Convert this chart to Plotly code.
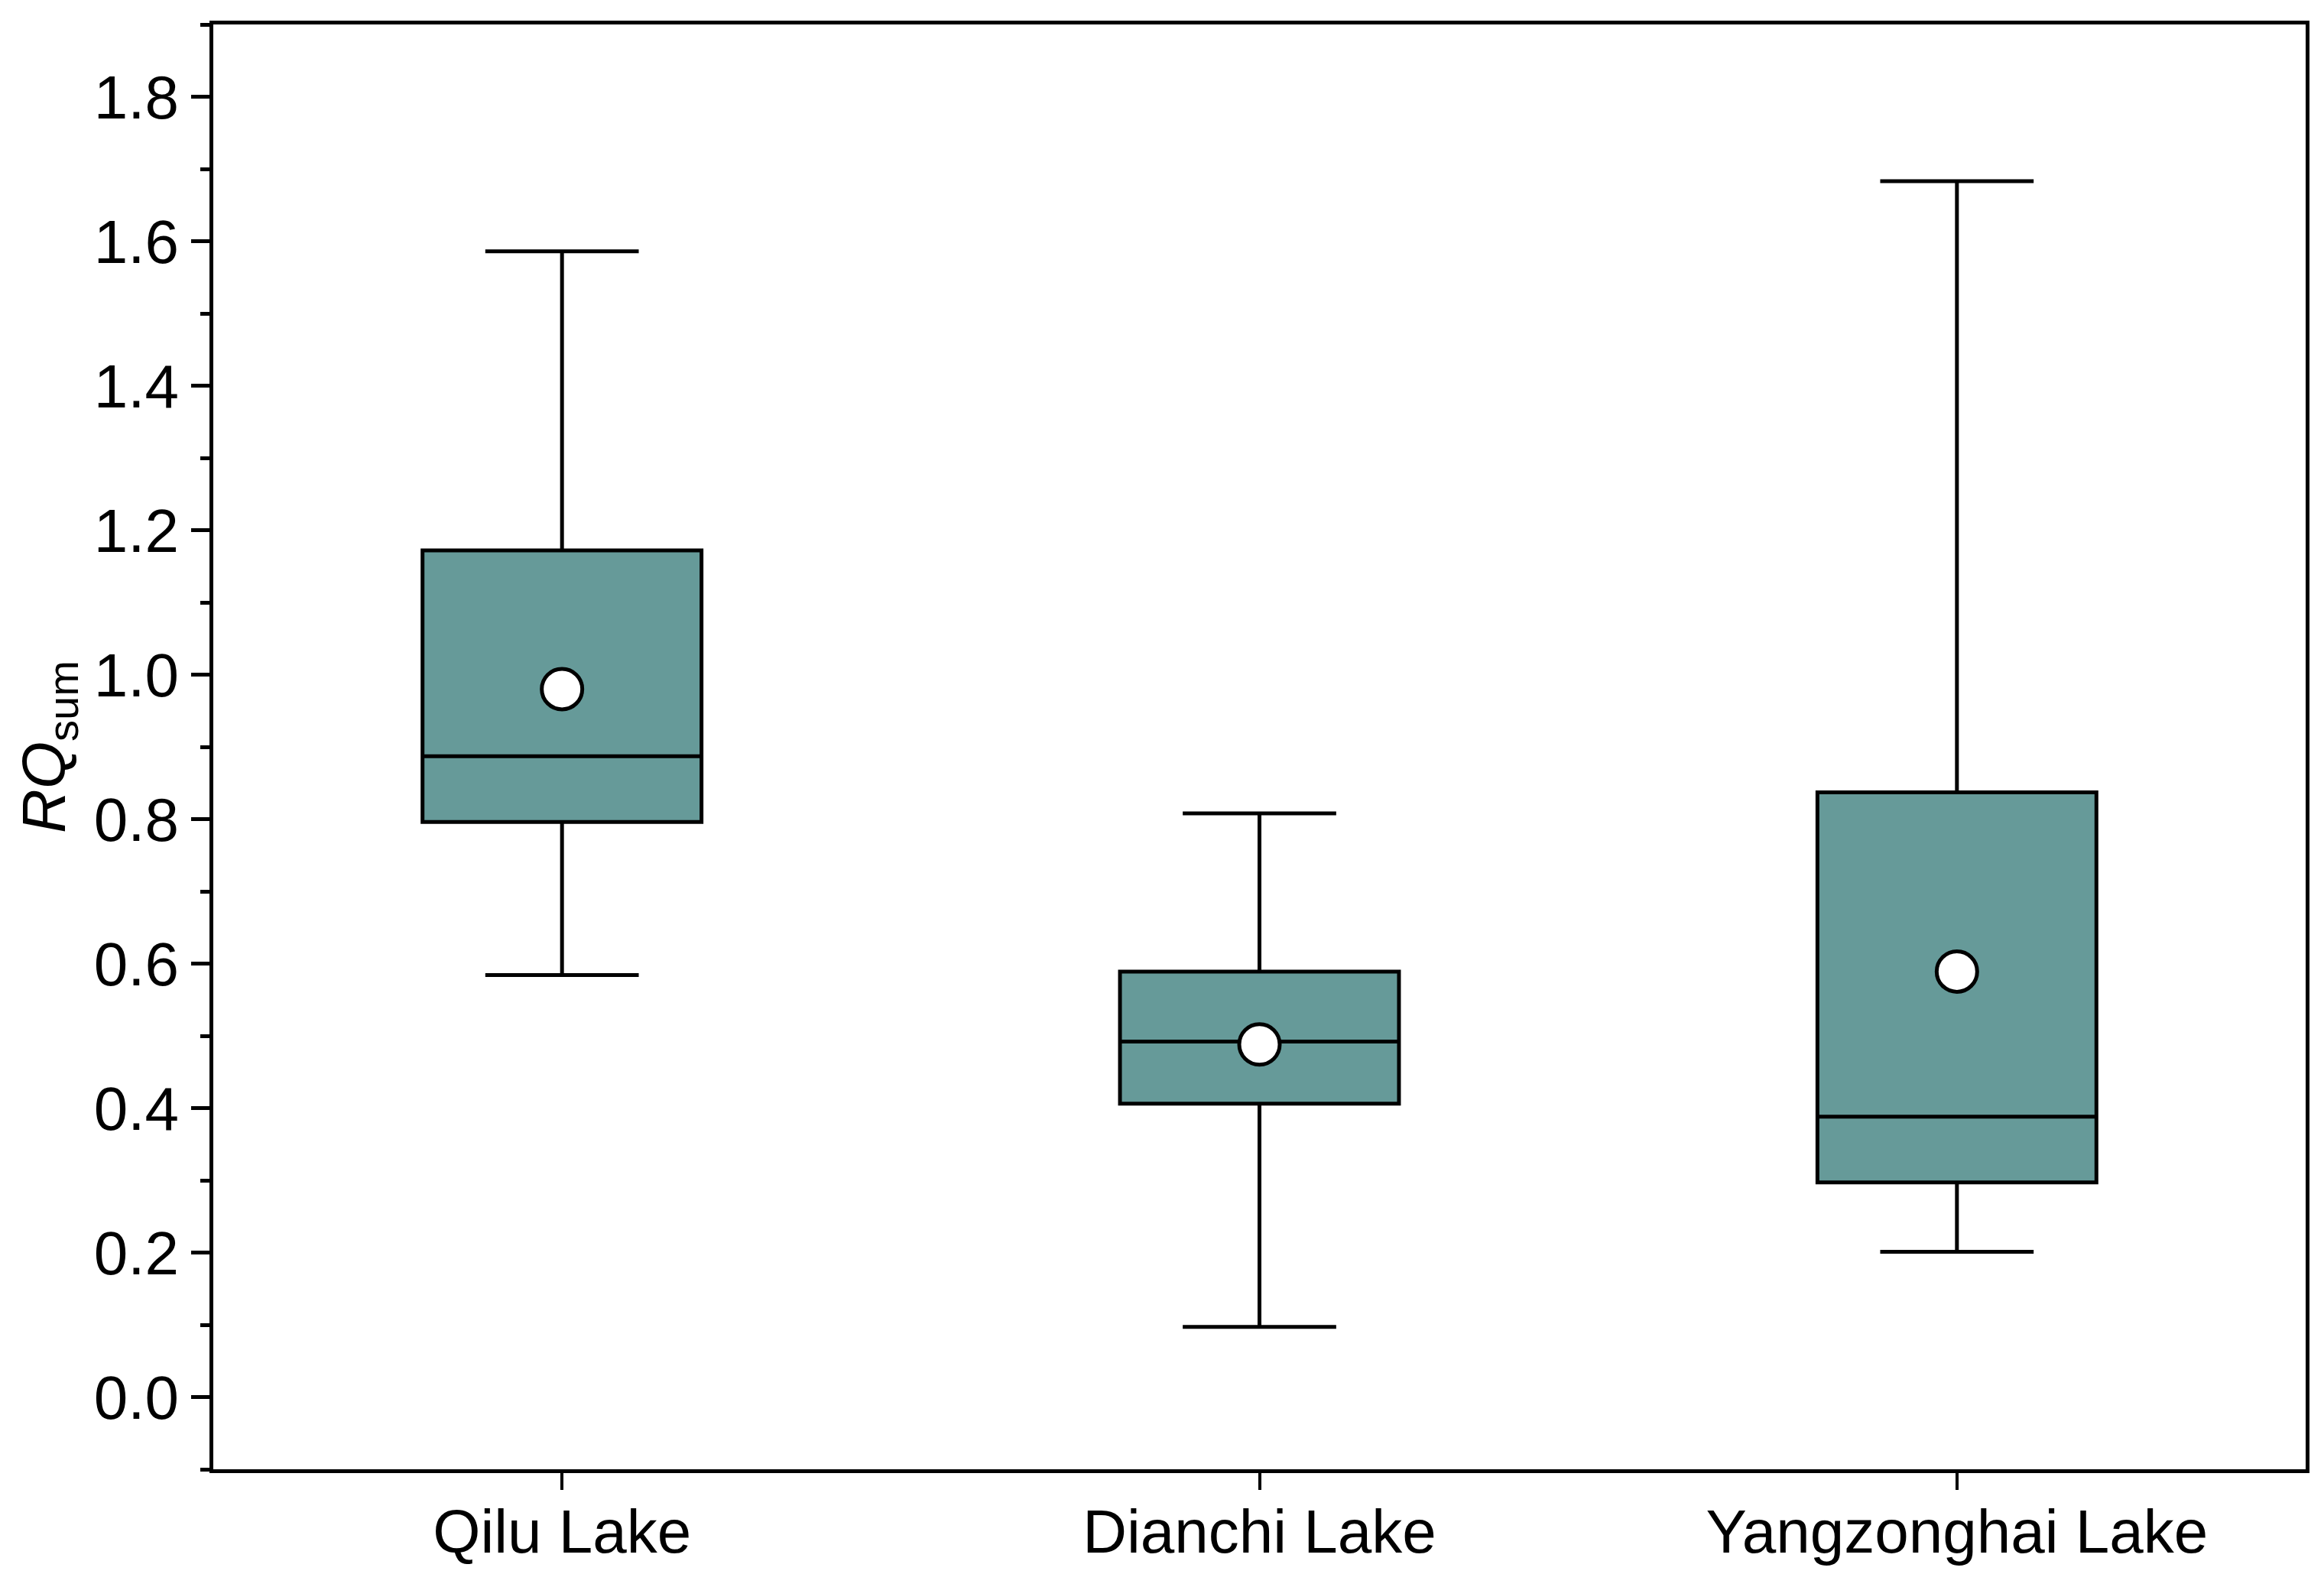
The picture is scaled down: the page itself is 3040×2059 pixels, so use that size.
import plotly.graph_objects as go

# box statistics
lakes = ["Qilu Lake", "Dianchi Lake", "Yangzonghai Lake"]
lower_whisker = [0.584, 0.097, 0.201]
q1_vals = [0.796, 0.406, 0.297]
median_vals = [0.887, 0.492, 0.388]
q3_vals = [1.172, 0.589, 0.837]
upper_whisker = [1.586, 0.808, 1.683]
mean_vals = [0.980, 0.488, 0.589]

box_color = "#669A99"
font_name = "Liberation Sans, Arial, sans-serif"

fig = go.Figure()

fig.add_trace(go.Box(
    x=lakes,
    q1=q1_vals,
    median=median_vals,
    q3=q3_vals,
    lowerfence=lower_whisker,
    upperfence=upper_whisker,
    fillcolor=box_color,
    line=dict(color="black", width=5),
    width=0.4,
    whiskerwidth=0.55,
    boxpoints=False,
    showlegend=False,
))

# means as white circles
fig.add_trace(go.Scatter(
    x=lakes,
    y=mean_vals,
    mode="markers",
    marker=dict(symbol="circle", size=53, color="white",
                line=dict(color="black", width=5)),
    showlegend=False,
))

# page body adds ~8px offset, margins compensate for it
fig.update_layout(
    width=3040,
    height=2059,
    margin=dict(l=271, r=32, t=24, b=145),
    plot_bgcolor="white",
    paper_bgcolor="white",
    font=dict(family=font_name, size=80, color="black"),
)

fig.update_xaxes(
    type="category",
    range=[-0.5, 2.5],
    automargin=False,
    showline=True, linecolor="black", linewidth=5, mirror=True,
    ticks="outside", ticklen=22, tickwidth=4, tickcolor="black",
    ticklabelstandoff=-14,
    showgrid=False, zeroline=False,
    tickfont=dict(family=font_name, size=80, color="black"),
)

fig.update_yaxes(
    range=[-0.1, 1.9],
    automargin=False,
    tickmode="array",
    tickvals=[0.0, 0.2, 0.4, 0.6, 0.8, 1.0, 1.2, 1.4, 1.6, 1.8],
    ticktext=["0.0", "0.2", "0.4", "0.6", "0.8", "1.0", "1.2", "1.4", "1.6", "1.8"],
    showline=True, linecolor="black", linewidth=5, mirror=True,
    ticks="outside", ticklen=24, tickwidth=5, tickcolor="black",
    minor=dict(ticks="outside", ticklen=12, tickwidth=5, tickcolor="black",
               tickmode="array",
               tickvals=[-0.1, 0.1, 0.3, 0.5, 0.7, 0.9, 1.1, 1.3, 1.5, 1.7, 1.9]),
    showgrid=False, zeroline=False,
    tickfont=dict(family=font_name, size=80, color="black"),
    title=dict(text="<i>RQ</i><sub>sum</sub>",
               font=dict(family=font_name, size=80, color="black"),
               standoff=12),
)

fig.write_html("out.html")
